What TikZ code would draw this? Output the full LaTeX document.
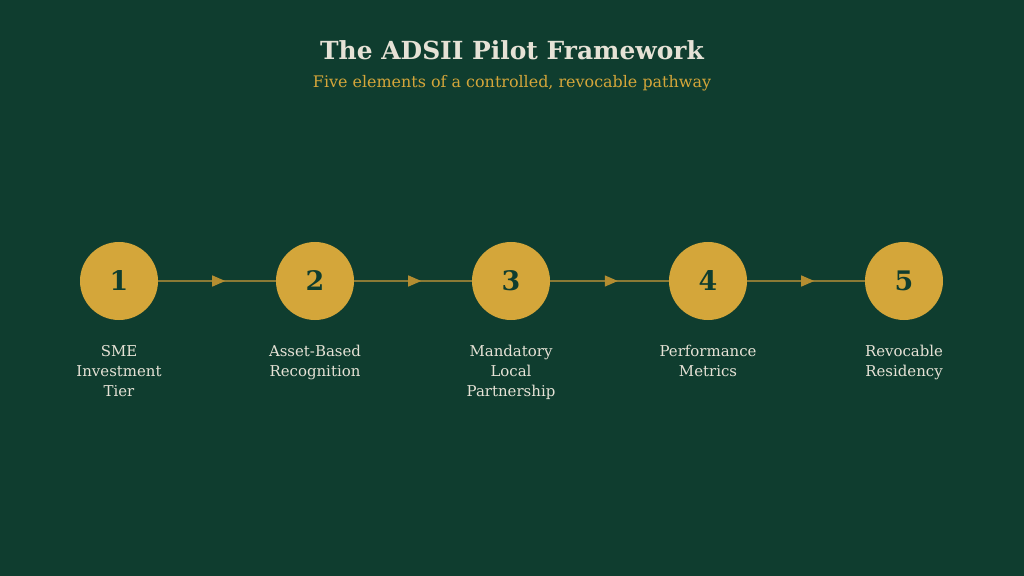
\documentclass[tikz,border=0pt]{standalone}
\usepackage{fontspec}
\setmainfont{DejaVu Serif}
\usetikzlibrary{positioning,decorations.markings,arrows.meta}
\definecolor{bgGreen}{HTML}{0F3D2F}
\definecolor{gold}{HTML}{D4A63A}
\definecolor{paleText}{HTML}{E6E2D6}
\definecolor{lineGold}{HTML}{8A7A35}
\tikzstyle{stepnode}=[circle,fill=gold,minimum size=78bp,inner sep=0pt,font=\fontsize{27}{27}\selectfont\bfseries,text=bgGreen]
\tikzstyle{steplabel}=[align=center,text=paleText,font=\fontsize{15}{20}\selectfont,anchor=north]
\tikzstyle{steplink}=[draw=lineGold,line width=1.2bp,postaction={decorate},
  decoration={markings,mark=at position 0.57 with {\arrow[gold!85!black]{Triangle[length=13bp,width=11bp]}}}]

\begin{document}
\begin{tikzpicture}[x=1bp,y=-1bp]
  \fill [bgGreen] (0,0) rectangle (1024,576);
  \useasboundingbox (0,0) rectangle (1024,576);

  \node [text=paleText, font=\fontsize{25}{25}\selectfont\bfseries] at (512, 50) (title) {The ADSII Pilot Framework};
  \node [text=gold, font=\fontsize{16}{16}\selectfont] at (512, 83) (subtitle) {Five elements of a controlled, revocable pathway};

  \node [stepnode] at (119, 281) (s1) {1};
  \node [stepnode] at (315, 281) (s2) {2};
  \node [stepnode] at (511, 281) (s3) {3};
  \node [stepnode] at (708, 281) (s4) {4};
  \node [stepnode] at (904, 281) (s5) {5};

  \draw [steplink] (s1) -- (s2);
  \draw [steplink] (s2) -- (s3);
  \draw [steplink] (s3) -- (s4);
  \draw [steplink] (s4) -- (s5);

  \node [steplabel] at (119, 342) (l1) {SME\\Investment\\Tier};
  \node [steplabel] at (315, 342) (l2) {Asset-Based\\Recognition};
  \node [steplabel] at (511, 342) (l3) {Mandatory\\Local\\Partnership};
  \node [steplabel] at (708, 342) (l4) {Performance\\Metrics};
  \node [steplabel] at (904, 342) (l5) {Revocable\\Residency};
\end{tikzpicture}
\end{document}
